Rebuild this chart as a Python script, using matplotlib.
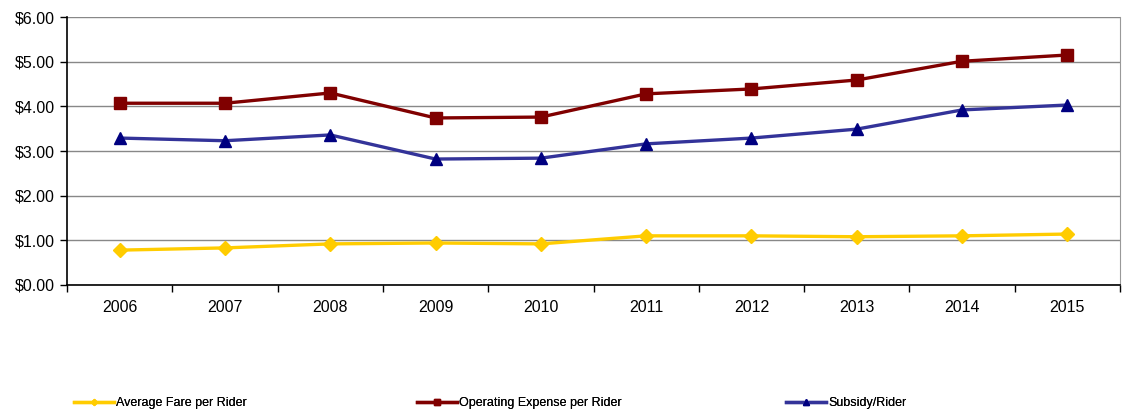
import matplotlib
matplotlib.use('Agg')
import matplotlib.pyplot as plt
import numpy as np
from matplotlib.ticker import FuncFormatter, MultipleLocator

# data
years = ['2006', '2007', '2008', '2009', '2010', '2011', '2012', '2013', '2014', '2015']
fare = [0.78, 0.83, 0.92, 0.94, 0.92, 1.10, 1.10, 1.08, 1.10, 1.14]
opex = [4.07, 4.07, 4.30, 3.74, 3.76, 4.28, 4.39, 4.59, 5.01, 5.15]
subsidy = [3.29, 3.23, 3.36, 2.82, 2.84, 3.16, 3.29, 3.49, 3.92, 4.03]

plt.rcParams['font.family'] = ['Liberation Sans', 'DejaVu Sans']

fig = plt.figure(figsize=(11.44, 4.16), dpi=100)
ax = fig.add_axes([0.0586, 0.315, 0.9204, 0.644])
x = np.arange(len(years))

l1, = ax.plot(x, fare, color='#FFCC00', lw=2.4, marker='D', ms=7, mec='#FFCC00', mfc='#FFCC00')
l2, = ax.plot(x, opex, color='#800000', lw=2.4, marker='s', ms=9, mec='#800000', mfc='#800000')
l3, = ax.plot(x, subsidy, color='#333399', lw=2.4, marker='^', ms=9, mec='#000080', mfc='#000080')

ax.set_xlim(-0.5, len(years) - 0.5)
ax.set_ylim(0, 6)
ax.yaxis.set_major_locator(MultipleLocator(1))
ax.yaxis.set_major_formatter(FuncFormatter(lambda v, p: '${:.2f}'.format(v)))
ax.set_xticks(x)
ax.set_xticklabels(years)
ax.set_xticks(np.arange(-0.5, len(years), 1), minor=True)
ax.tick_params(axis='x', which='major', length=0, pad=11, labelsize=11.5)
ax.tick_params(axis='x', which='minor', length=5, width=1, color='black', direction='out')
ax.tick_params(axis='y', length=5, width=1, direction='out', labelsize=11.5)
ax.grid(axis='y', color='#888888', lw=1)
ax.set_axisbelow(True)
ax.spines['right'].set_color('#999999')
ax.spines['top'].set_visible(False)
ax.spines['left'].set_linewidth(1.2)
ax.spines['bottom'].set_linewidth(1.2)

# legend entries spaced out along the bottom
names = ['Average Fare per Rider', 'Operating Expense per Rider', 'Subsidy/Rider']
xs = [0.060, 0.360, 0.683]
for h, n, xp in zip([l1, l2, l3], names, xs):
    lg = fig.legend([h], [n], loc='center left', bbox_to_anchor=(xp, 0.031),
                    frameon=False, fontsize=9, handlelength=3.2, handletextpad=0.15,
                    markerscale=0.45, borderaxespad=0)
    fig.add_artist(lg)

fig.savefig('out.png', dpi=100)
